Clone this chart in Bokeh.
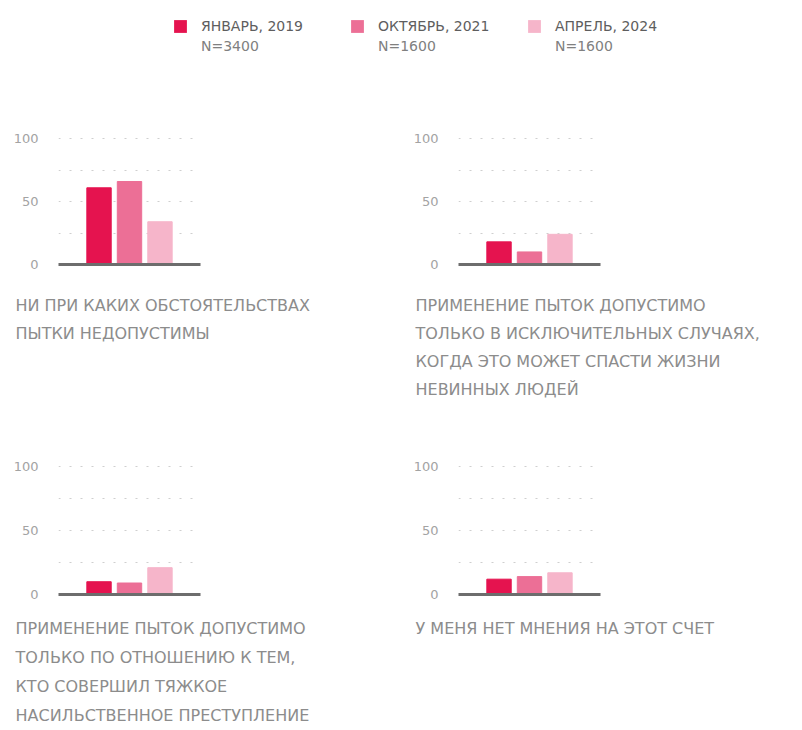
from bokeh.plotting import figure
from bokeh.models import (ColumnDataSource, FixedTicker, Title, Legend, LegendItem, Range1d)
from bokeh.layouts import column, row
from bokeh.embed import file_html
from bokeh.resources import INLINE

# ---- data ----
series_labels = ["ЯНВАРЬ, 2019", "ОКТЯБРЬ, 2021", "АПРЕЛЬ, 2024"]
series_n = ["N=3400", "N=1600", "N=1600"]
captions = [
    ["НИ ПРИ КАКИХ ОБСТОЯТЕЛЬСТВАХ", "ПЫТКИ НЕДОПУСТИМЫ"],
    ["ПРИМЕНЕНИЕ ПЫТОК ДОПУСТИМО", "ТОЛЬКО В ИСКЛЮЧИТЕЛЬНЫХ СЛУЧАЯХ,",
     "КОГДА ЭТО МОЖЕТ СПАСТИ ЖИЗНИ", "НЕВИННЫХ ЛЮДЕЙ"],
    ["ПРИМЕНЕНИЕ ПЫТОК ДОПУСТИМО", "ТОЛЬКО ПО ОТНОШЕНИЮ К ТЕМ,",
     "КТО СОВЕРШИЛ ТЯЖКОЕ", "НАСИЛЬСТВЕННОЕ ПРЕСТУПЛЕНИЕ"],
    ["У МЕНЯ НЕТ МНЕНИЯ НА ЭТОТ СЧЕТ"],
]
jan_2019 = [61, 18, 10, 12]
oct_2021 = [66, 10, 9, 14]
apr_2024 = [34, 24, 21, 17]
y_ticks = [0, 50, 100]
grid_ticks = [25, 50, 75, 100]

colors = ["#e5134f", "#ec6f96", "#f6b5ca"]
TEXT = "#8c8c8c"
FONT = "DejaVu Sans"


def panel(i, width, height, top_border, frame_h, gap, line_standoff):
    p = figure(width=width, height=height, output_backend="svg", toolbar_location=None,
               x_range=Range1d(-0.33, 4.33), y_range=Range1d(0, 101),
               min_border_left=58, min_border_top=top_border,
               min_border_right=width - 58 - 142,
               min_border_bottom=height - top_border - frame_h)
    p.outline_line_color = None
    p.background_fill_color = None
    p.border_fill_color = None
    vals = [jan_2019[i], oct_2021[i], apr_2024[i]]
    src = ColumnDataSource(dict(x=[1, 2, 3], top=vals, color=colors))
    p.vbar(x="x", top="top", width=0.8, color="color", source=src)

    p.xgrid.visible = False
    p.ygrid.ticker = FixedTicker(ticks=grid_ticks)
    p.ygrid.grid_line_color = "#cfcfcf"
    p.ygrid.grid_line_dash = "2 9"
    p.ygrid.grid_line_width = 1

    p.yaxis.ticker = FixedTicker(ticks=y_ticks)
    p.yaxis.axis_line_color = None
    p.yaxis.major_tick_line_color = None
    p.yaxis.minor_tick_line_color = None
    p.yaxis.major_label_text_color = "#a3a3a3"
    p.yaxis.major_label_text_font = FONT
    p.yaxis.major_label_text_font_size = "13px"
    p.yaxis.major_label_standoff = 14

    # x axis: the baseline; one invisible tick reserves the space above the captions
    p.xaxis.ticker = FixedTicker(ticks=[2])
    p.xaxis.major_label_overrides = {2: ""}
    p.xaxis.axis_line_color = "#6d6d6d"
    p.xaxis.axis_line_width = 3
    p.xaxis.major_tick_line_color = "#ffffff"
    p.xaxis.major_tick_line_alpha = 0.01
    p.xaxis.major_tick_in = 0
    p.xaxis.major_tick_out = gap
    p.xaxis.minor_tick_line_color = None
    p.xaxis.major_label_standoff = 0
    p.xaxis.major_label_text_font_size = "0px"

    for k, line in enumerate(captions[i]):
        t = Title(text=line, align="left", offset=-43, text_font=FONT,
                  standoff=line_standoff,
                  text_font_size="16px", text_font_style="normal", text_color=TEXT)
        p.add_layout(t, "below")
    return p


# legend figure
lg = figure(width=794, height=108, output_backend="svg", toolbar_location=None,
            x_range=Range1d(0, 1), y_range=Range1d(0, 1),
            min_border=0)
lg.axis.visible = False
lg.grid.visible = False
lg.outline_line_color = None
items_a, items_b = [], []
for c, lab, n in zip(colors, series_labels, series_n):
    ra = lg.vbar(x=[float("nan")], top=[float("nan")], width=0.1,
                 fill_color=c, line_color=None)
    rb = lg.vbar(x=[float("nan")], top=[float("nan")], width=0.1,
                 fill_color=None, line_color=None)
    items_a.append(LegendItem(label=lab, renderers=[ra]))
    items_b.append(LegendItem(label=n, renderers=[rb]))

common = dict(orientation="horizontal", glyph_width=16, glyph_height=16,
              label_standoff=13, spacing=10, label_width=138,
              padding=0, margin=0, border_line_color=None, background_fill_alpha=0,
              label_text_font=FONT, label_text_font_size="14px")
leg_a = Legend(items=items_a, location=(172, 74), label_text_color="#5e5e5e", **common)
leg_b = Legend(items=items_b, location=(172, 54), label_text_color="#808080", **common)
lg.add_layout(leg_a, "center")
lg.add_layout(leg_b, "center")

p1 = panel(0, 400, 320, 29, 127, 26, 7)
p2 = panel(1, 394, 320, 29, 127, 26, 7)
p3 = panel(2, 400, 302, 37, 129, 18, 8)
p4 = panel(3, 394, 302, 37, 129, 18, 8)

layout = column(lg, row(p1, p2), row(p3, p4))
open("out.html", "w").write(file_html(layout, INLINE))
